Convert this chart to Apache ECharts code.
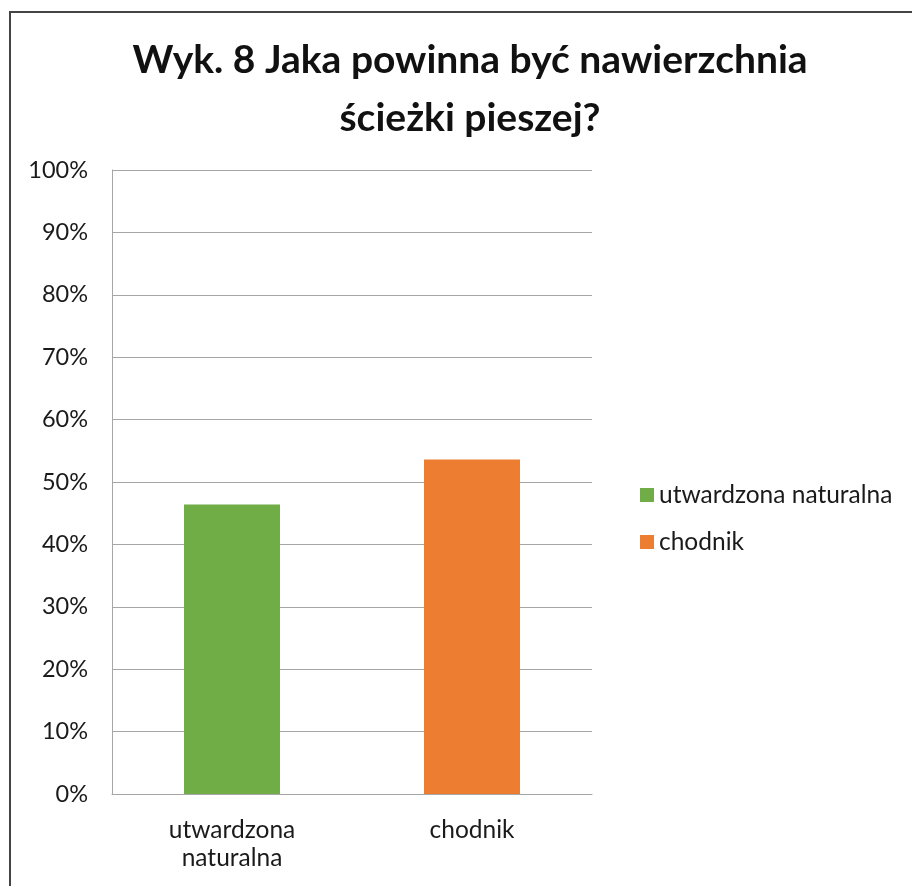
<!DOCTYPE html>
<html>
<head>
<meta charset="utf-8">
<script src="https://cdn.jsdelivr.net/npm/echarts@6/dist/echarts.min.js"></script>
<style>html,body{margin:0;padding:0;background:#fff}#c{width:912px;height:886px}</style>
</head>
<body>
<div id="c"></div>
<script>
const titleLines = ['Wyk. 8 Jaka powinna być nawierzchnia', 'ścieżki pieszej?'];
const categories = ['utwardzona naturalna', 'chodnik'];
const valuesNaturalna = [46.4, null];
const valuesChodnik = [null, 53.6];
const seriesNames = ['utwardzona naturalna', 'chodnik'];
const colors = ['#70AD47', '#ED7D31'];

const FONT = 'Lato';
const chart = echarts.init(document.getElementById('c'), null, {renderer: 'canvas'});
chart.setOption({
  animation: false,
  backgroundColor: '#fff',
  color: colors,
  title: {
    text: titleLines.join('\n'),
    left: 465,
    top: 26,
    textAlign: 'center',
    textStyle: {fontFamily: FONT, fontWeight: 'bold', fontSize: 39, lineHeight: 58, color: '#111'}
  },
  graphic: [{
    type: 'rect', silent: true,
    shape: {x: 10, y: 12, width: 1000, height: 1000},
    style: {fill: 'none', stroke: '#444', lineWidth: 2}
  }],
  legend: {
    orient: 'vertical',
    left: 635,
    top: 477,
    itemWidth: 14,
    itemHeight: 14,
    itemGap: 21,
    icon: 'rect',
    data: seriesNames,
    textStyle: {fontFamily: FONT, fontSize: 24.5, lineHeight: 26, color: '#1a1a1a'}
  },
  grid: {left: 112, right: 320, top: 170, bottom: 92, containLabel: false},
  xAxis: {
    type: 'category',
    data: categories,
    axisLine: {lineStyle: {color: '#a6a6a6', width: 1}},
    axisTick: {show: false},
    axisLabel: {
      fontFamily: FONT, fontSize: 24.5, lineHeight: 28, color: '#1a1a1a', margin: 22,
      formatter: v => v.replace(' ', '\n')
    }
  },
  yAxis: {
    type: 'value',
    min: 0, max: 100, interval: 10,
    axisLine: {show: true, lineStyle: {color: '#a6a6a6', width: 1}},
    axisTick: {show: false},
    splitLine: {lineStyle: {color: '#a6a6a6', width: 1}},
    axisLabel: {fontFamily: FONT, fontSize: 23.5, color: '#1a1a1a', margin: 24, formatter: '{value}%'}
  },
  series: [
    {name: seriesNames[0], type: 'bar', stack: 's', barWidth: '40%', data: valuesNaturalna, itemStyle: {color: colors[0]}},
    {name: seriesNames[1], type: 'bar', stack: 's', barWidth: '40%', data: valuesChodnik, itemStyle: {color: colors[1]}}
  ]
});
</script>
</body>
</html>
